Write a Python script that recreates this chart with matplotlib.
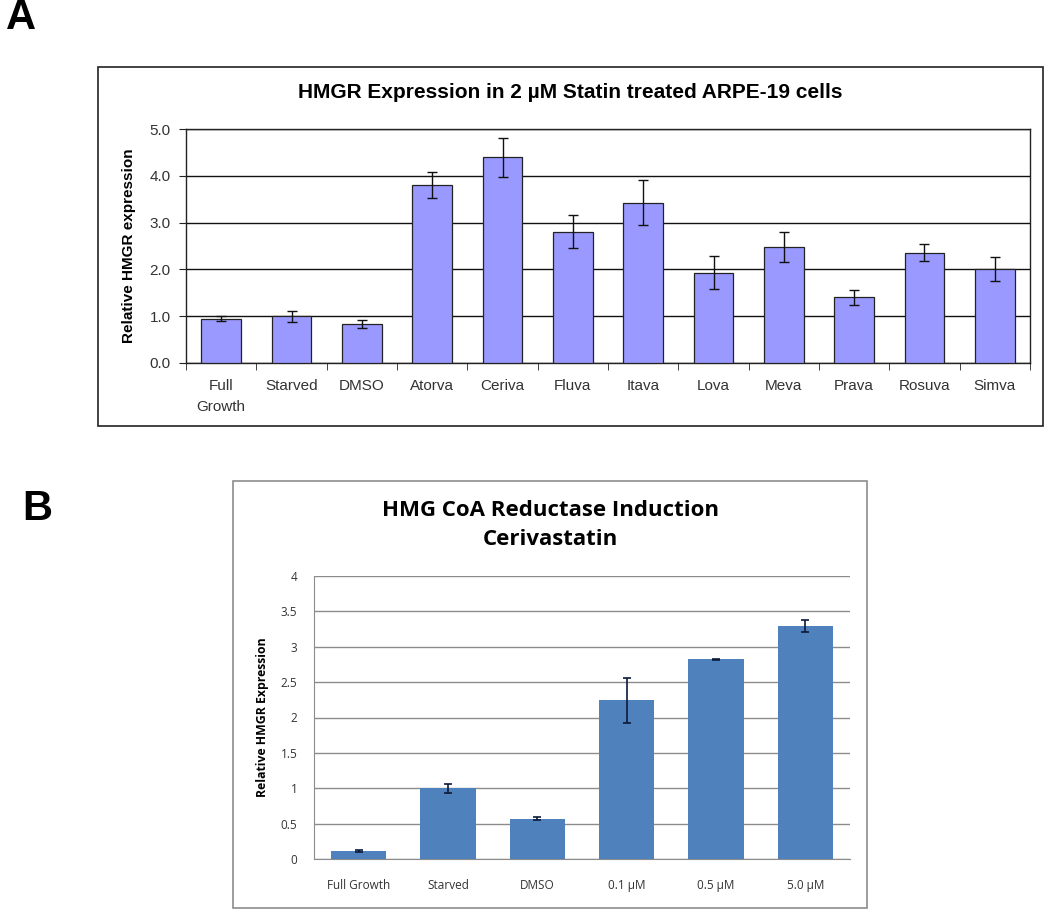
import matplotlib
matplotlib.use('Agg')
import matplotlib.pyplot as plt
from matplotlib.patches import Rectangle
import numpy as np

# Panel A: HMGR expression, 2 uM statins
cats_a = ['Full\nGrowth', 'Starved', 'DMSO', 'Atorva', 'Ceriva', 'Fluva',
          'Itava', 'Lova', 'Meva', 'Prava', 'Rosuva', 'Simva']
vals_a = [0.94, 0.99, 0.83, 3.81, 4.40, 2.81, 3.43, 1.93, 2.47, 1.40, 2.36, 2.01]
errs_a = [0.05, 0.12, 0.08, 0.28, 0.42, 0.36, 0.49, 0.35, 0.32, 0.16, 0.19, 0.25]

# Panel B: cerivastatin dose response
cats_b = ['Full Growth', 'Starved', 'DMSO', '0.1 µM', '0.5 µM', '5.0 µM']
vals_b = [0.12, 1.00, 0.57, 2.24, 2.82, 3.29]
errs_b = [0.01, 0.06, 0.02, 0.32, 0.01, 0.08]

W, H = 1050, 916
fig = plt.figure(figsize=(W / 100, H / 100), dpi=100)
fig.patch.set_facecolor('white')


def box(x0, y0, x1, y1):
    # pixel box (top-left origin) -> figure fraction rect
    return [x0 / W, 1 - y1 / H, (x1 - x0) / W, (y1 - y0) / H]


# outer frames
fa = box(98, 67, 1043, 426)
fig.patches.append(Rectangle((fa[0], fa[1]), fa[2], fa[3], transform=fig.transFigure,
                             fill=False, edgecolor='#222222', linewidth=1.2))
fb = box(233, 481, 867, 908)
fig.patches.append(Rectangle((fb[0], fb[1]), fb[2], fb[3], transform=fig.transFigure,
                             fill=False, edgecolor='#8c8c8c', linewidth=1.2))

fig.text(21 / W, 1 - 18 / H, 'A', fontsize=30, fontweight='bold', family='Liberation Sans',
         ha='center', va='center')
fig.text(37 / W, 1 - 509 / H, 'B', fontsize=30, fontweight='bold', family='Liberation Sans',
         ha='center', va='center')

# ---- panel A ----
ax = fig.add_axes(box(186, 129.3, 1030, 362.7))
x = np.arange(len(cats_a))
ax.bar(x, vals_a, 0.56, color='#9999ff', edgecolor='#222222', linewidth=0.9, zorder=3)
ax.errorbar(x, vals_a, yerr=errs_a, fmt='none', ecolor='#111111', elinewidth=1,
            capsize=3.5, capthick=1, zorder=4)
ax.set_xlim(-0.5, len(cats_a) - 0.5)
ax.set_ylim(0, 5)
ax.set_yticks(np.arange(0, 5.01, 1.0))
ax.set_yticklabels([f'{v:.1f}' for v in np.arange(0, 5.01, 1.0)],
                   family='Liberation Sans', fontsize=11, color='#333333')
ax.set_xticks(x)
ax.set_xticklabels(cats_a, family='Liberation Sans', fontsize=11, color='#333333',
                   linespacing=1.6, va='top')
ax.tick_params(axis='x', length=0, pad=12)
ax.set_xticks(np.arange(-0.5, len(cats_a), 1.0), minor=True)
ax.tick_params(axis='x', which='minor', length=5, direction='out', color='#222222')
ax.tick_params(axis='y', length=5, direction='out', color='#222222', pad=6)
ax.yaxis.grid(True, color='#111111', linewidth=1)
ax.set_axisbelow(True)
for s in ax.spines.values():
    s.set_color('#222222')
    s.set_linewidth(1)
ax.set_ylabel('Relative HMGR expression', family='Liberation Sans', fontsize=11,
              fontweight='bold', labelpad=10)
fig.text(570 / W, 1 - 92 / H, 'HMGR Expression in 2 µM Statin treated ARPE-19 cells',
         family='Liberation Sans', fontsize=15, fontweight='bold',
         ha='center', va='center')

# ---- panel B ----
bx = fig.add_axes(box(314, 575.7, 850, 859.3))
xb = np.arange(len(cats_b))
bx.bar(xb, vals_b, 0.62, color='#4f81bd', zorder=3)
bx.errorbar(xb, vals_b, yerr=errs_b, fmt='none', ecolor='#0b1a3a', elinewidth=1.2,
            capsize=3, capthick=1.2, zorder=4)
bx.set_xlim(-0.5, len(cats_b) - 0.5)
bx.set_ylim(0, 4)
bx.set_yticks(np.arange(0, 4.01, 0.5))
bx.set_yticklabels(['0', '0.5', '1', '1.5', '2', '2.5', '3', '3.5', '4'],
                   family='Open Sans', fontsize=8.5, color='#333333')
bx.set_xticks(xb)
bx.set_xticklabels(cats_b, family='Open Sans', fontsize=8.5, color='#333333')
bx.tick_params(axis='x', length=0, pad=14)
bx.tick_params(axis='y', length=0, pad=12)
bx.yaxis.grid(True, color='#8c8c8c', linewidth=1)
bx.set_axisbelow(True)
bx.spines['top'].set_visible(False)
bx.spines['right'].set_visible(False)
bx.spines['left'].set_color('#8c8c8c')
bx.spines['bottom'].set_color('#8c8c8c')
bx.set_ylabel('Relative HMGR Expression', family='Open Sans', fontsize=8.8,
              fontweight='bold', labelpad=8)
fig.text(550 / W, 1 - 525 / H, 'HMG CoA Reductase Induction\nCerivastatin',
         family='Open Sans', fontsize=16, fontweight='bold', ha='center', va='center',
         linespacing=1.45)

fig.savefig('out.png', dpi=100, facecolor='white')
